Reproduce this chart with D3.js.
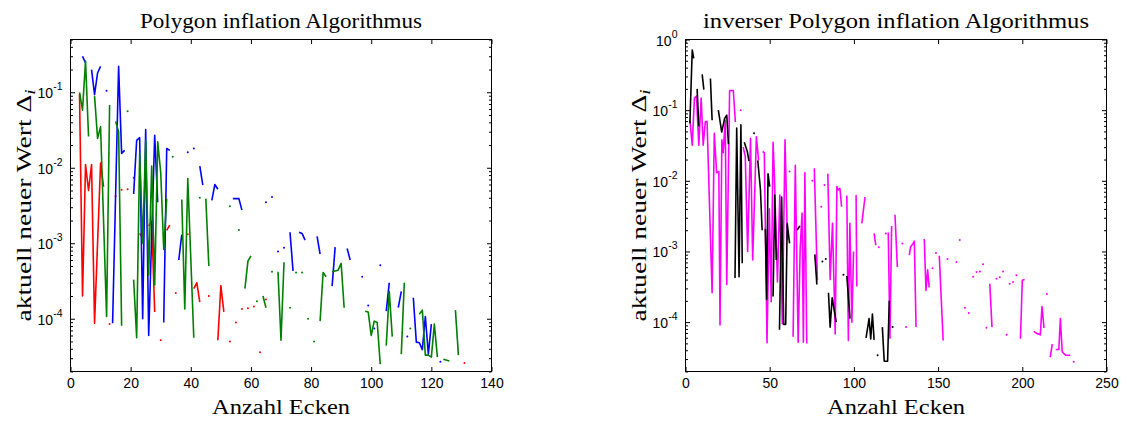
<!DOCTYPE html>
<html>
<head>
<meta charset="utf-8">
<script src="https://cdn.jsdelivr.net/npm/d3@7"></script>
<style>
  body { margin: 0; background: #fff; }
  svg { display: block; }
</style>
</head>
<body>
<svg id="chart" width="1127" height="421"></svg>
<script>
// ---- Polygon inflation: Δi per vertex count (null = gap in the run) ----
const leftXTicks = [0, 20, 40, 60, 80, 100, 120, 140];
const rightXTicks = [0, 50, 100, 150, 200, 250];
const leftDecades = [-4, -3, -2, -1];
const rightDecades = [-4, -3, -2, -1, 0];

const leftRed = [[3,9.5e-2],[4,2.0e-4],[5,1.1e-2],[6,5.0e-3],[7,1.1e-2],[8,8.7e-5],[10,1.15e-2],[11,5.6e-3],null,
  [13,8.5e-5],null,[15,4.2e-3],null,[17,5.1e-3],null,[19,5.2e-3],null,[21,7.4e-3],null,
  [23,1.35e-3],[24,1.17e-3],null,[26,1.7e-3],[27,1.95e-3],[28,1.23e-4],null,[30,5.2e-5],null,
  [32,1.48e-3],[33,1.74e-3],null,[35,2.2e-4],null,[39,1.32e-3],null,[41,2.5e-4],[42,3.0e-4],[43,1.66e-4],null,
  [46,2.0e-4],null,[49,5.2e-5],[50,2.75e-4],[51,1.23e-4],null,[53,5.0e-5],null,[55,8.9e-5],null,
  [57,1.35e-4],null,[59,1.38e-4],null,[61,1.45e-4],null,[63,3.6e-5],null,[65,1.8e-4],null,[131,2.6e-5]];

const leftBlue = [[4,3.0e-1],[5,2.45e-1],null,[7,2.0e-1],[8,9.3e-2],[9,1.8e-1],[10,2.2e-1],null,[12,1.05e-1],null,
  [14,8.7e-5],[16,2.2e-1],[17,1.55e-2],[18,1.7e-2],null,
  [21,4.5e-3],[22,2.3e-2],[23,2.5e-2],[24,1.0e-4],[25,3.2e-2],[26,6.0e-5],[28,2.7e-2],[29,3.5e-3],null,
  [31,8.9e-5],[32,1.8e-2],[33,1.7e-2],null,[36,6.0e-4],[37,1.3e-3],null,[39,1.6e-2],null,[41,1.8e-2],null,
  [43,1.05e-2],[44,5.9e-3],null,[47,3.7e-3],[48,6.0e-3],[49,5.2e-3],null,[54,3.9e-3],[56,3.9e-3],[57,2.75e-3],null,
  [65,3.5e-3],null,[67,4.1e-3],null,[69,7.8e-4],null,[71,8.7e-4],null,[73,1.4e-3],[74,4.3e-4],null,
  [76,1.4e-3],[77,1.35e-3],[78,1.1e-3],null,[82,1.23e-3],[83,7.2e-4],null,[87,2.7e-4],[88,8.9e-4],null,
  [92,8.5e-4],[93,6.0e-4],null,[97,3.6e-4],null,[99,1.5e-4],null,[101,7.4e-5],null,[103,5.1e-4],null,
  [105,1.26e-4],[106,3.0e-4],null,[109,1.4e-4],[110,2.3e-4],null,[112,5.8e-5],null,
  [114,1.9e-4],[115,4.9e-5],[116,4.8e-5],[117,3.9e-5],[118,1.07e-4],[119,3.4e-5],[120,8.5e-5],null,[123,2.7e-5]];

const leftGreen = [[3,1.0e-1],[4,5.8e-2],[5,2.6e-1],[6,2.6e-2],null,[8,8.9e-2],[9,2.45e-2],[10,3.5e-2],[12,1.07e-4],[13,6.8e-2],null,
  [15,4.1e-2],[16,3.0e-2],[17,8.1e-5],null,[19,5.6e-2],null,
  [21,3.3e-4],[22,5.6e-5],[23,1.55e-2],[24,1.0e-3],[25,2.3e-2],[26,3.8e-4],[27,1.05e-2],[28,2.8e-4],[29,2.2e-2],[30,8.7e-3],[31,8.3e-4],[32,3.9e-3],null,
  [34,1.4e-2],null,[37,3.8e-3],[38,1.35e-4],[39,7.2e-3],[41,5.6e-5],null,[43,4.0e-3],null,[45,3.9e-3],[46,5.0e-4],null,
  [53,3.1e-3],null,[56,1.5e-3],null,[58,2.5e-4],[59,5.8e-4],[60,6.8e-4],null,[62,1.7e-4],null,[64,2.0e-4],[65,1.4e-4],null,
  [67,4.2e-4],null,[69,4.2e-4],[70,5.2e-5],[71,5.6e-4],null,[73,1.4e-4],null,[75,4.1e-4],null,[77,4.1e-4],null,
  [79,1.0e-4],null,[81,5.0e-5],null,[83,9.3e-5],[84,4.1e-4],[85,3.6e-4],null,[87,4.2e-4],[89,4.4e-4],[90,5.4e-4],[91,1.4e-4],null,
  [98,1.26e-4],[99,1.23e-4],[100,6.0e-5],[101,9.3e-5],[102,8.9e-5],[103,2.5e-5],null,[105,4.4e-5],[106,2.3e-4],[107,5.8e-5],null,
  [110,3.4e-5],[111,3.0e-4],null,[113,7.4e-5],null,[116,1.15e-4],[117,1.3e-4],[118,3.3e-5],[119,3.3e-5],[120,3.1e-5],[121,8.5e-5],[122,3.1e-5],null,
  [124,2.9e-5],[126,2.75e-5],null,[128,1.3e-4],[129,3.3e-5]];

const rightMagenta = [[2.6,7.2e-2],[4.0,3.2e-2],[5.3,1.48e-1],[6.5,1.58e-1],[7.9,3.2e-2],[9.3,1.48e-1],[10.5,3.2e-2],[11.8,6.9e-2],[12.8,6.9e-2],
  [15.8,2.6e-4],[17.1,4.7e-2],[18.5,1.3e-2],[19.8,1.35e-2],[20.5,9.1e-5],[21.6,3.8e-2],[22.4,2.5e-2],[23.6,7.2e-2],[24.5,3.4e-4],
  [26.2,1.9e-1],[28.4,1.9e-1],[29.6,6.8e-2],null,[32.8,1.0e-1],null,
  [34.3,3.0e-2],[35.5,2.2e-2],[36.9,1.0e-3],[38.6,4.0e-2],[39.9,7.6e-4],[42.1,4.2e-2],[43.4,1.95e-2],null,
  [45.8,2.6e-2],[46.8,2.5e-2],[48.4,5.1e-5],[49.8,4.0e-3],[50.9,1.95e-4],[52.0,3.5e-2],[52.8,1.15e-2],[54.6,3.7e-4],[56.0,6.3e-3],
  [57.5,9.5e-5],[59.1,3.8e-2],[60.5,1.45e-3],null,[61.8,1.35e-2],null,
  [63.9,6.2e-5],[65.2,1.66e-2],[66.9,5.2e-5],[68.1,1.1e-3],[69.2,3.5e-3],[70.0,5.2e-5],[70.9,1.3e-2],[72.0,5.0e-5],null,
  [75.3,1.0e-2],null,[76.5,1.5e-2],[78.3,3.9e-4],null,[80.6,4.3e-3],null,[82.5,8.7e-3],null,
  [84.5,1.26e-2],[85.9,4.0e-4],[87.3,2.5e-3],[88.9,6.8e-5],[89.9,8.3e-3],[90.7,7.4e-3],[91.7,7.8e-3],[92.7,4.3e-3],null,
  [95.8,6.2e-3],[96.7,5.5e-5],[97.6,2.5e-3],[98.8,1.0e-4],[99.8,1.0e-3],null,[101.3,6.3e-3],[101.7,3.2e-4],null,
  [104.7,2.5e-3],[106.6,5.9e-3],null,[112,1.8e-3],[113,1.23e-3],null,[114.8,1.15e-3],null,[119,1.8e-3],null,
  [120.4,1.86e-3],[121.4,5.9e-5],[122.4,2.3e-3],null,[124.4,3.3e-3],[125.8,6.0e-4],null,[128.8,1.3e-3],null,[131,8.5e-5],null,
  [132.9,8.9e-4],[133.7,1.17e-3],[135.2,1.3e-3],[135.9,1.4e-3],[136.9,8.5e-5],null,
  [141.8,1.5e-3],[142.8,2.8e-4],[143.8,5.5e-4],[144.7,3.1e-4],null,[146.7,5.8e-4],null,[148.7,9.5e-4],null,
  [150.7,8.7e-4],[153,5.5e-5],null,[155.6,7.8e-4],null,[160.9,7.1e-4],null,[162.9,1.45e-3],null,[165.9,1.6e-4],null,
  [168.2,1.35e-4],null,[170.8,4.4e-4],null,[172.8,5.1e-4],null,[174.8,5.2e-4],null,[176.7,6.6e-4],null,[178.7,8.3e-5],null,
  [180.7,3.5e-4],[182,8.5e-5],null,[184.7,4.1e-4],null,[186.6,4.3e-4],null,[188.6,5.2e-4],null,[190.6,6.6e-5],null,
  [192.5,3.5e-4],null,[194.5,3.7e-4],null,[196.5,4.6e-4],null,[198.9,5.8e-5],[200,3.9e-4],[201.4,4.0e-4],null,
  [206.8,7.4e-5],[208.7,6.9e-5],[210.7,6.6e-5],[211.7,1.66e-4],[212.9,8.3e-5],null,[214.6,2.5e-4],null,
  [216.6,3.2e-5],[217.8,4.9e-5],null,[219.8,4.1e-5],[221.7,4.1e-5],[222.6,1.12e-4],[223.7,3.8e-5],[225.7,3.4e-5],[228.5,3.4e-5],null,
  [230.5,2.75e-5]];

const rightBlack = [[2.6,6.5e-2],[4.0,7.1e-1],[4.9,5.4e-1],null,[6.9,2.0e-1],[7.9,5.9e-2],null,[9.9,3.2e-1],[10.9,1.95e-1],null,
  [14.8,2.8e-1],[15.8,7.2e-2],null,[19.5,1.0e-1],[21.5,4.9e-2],[23.2,7.6e-2],[24.5,8.5e-2],[25.5,3.3e-2],null,
  [29.4,4.2e-4],[30.4,5.6e-2],[31.8,4.4e-4],[32.9,6.2e-2],[33.7,6.8e-4],null,[34.9,3.5e-2],[36.7,2.6e-2],[37.7,1.9e-2],null,
  [40.7,4.7e-2],null,[42.9,1.95e-2],[44.5,7.6e-3],[45.5,2.0e-3],null,[47.4,2.1e-3],[48.2,2.1e-4],[49.0,1.26e-2],[50.0,8.3e-3],null,
  [52.0,2.3e-4],[53.0,6.3e-3],[53.9,7.6e-4],null,[55.8,7.8e-5],[57.1,5.9e-3],[58.3,9.3e-5],[59.5,9.3e-5],[60.4,2.5e-3],[61.8,1.3e-3],null,
  [66.3,2.0e-3],[67.9,2.3e-3],null,[76.8,9.1e-4],[78.0,3.4e-4],null,[81.3,7.2e-4],null,[83.3,7.8e-4],null,
  [84.9,2.6e-4],[85.9,8.5e-5],[87.1,2.2e-4],[89.5,1.0e-4],null,[93.8,4.7e-4],null,[95.8,4.5e-4],[97.7,1.12e-4],null,
  [107.2,6.0e-5],[109,1.12e-4],[110,5.8e-5],[111,1.3e-4],[112,5.6e-5],null,[114.1,3.4e-5],null,
  [116.9,8.5e-5],[118,2.8e-5],[120,2.8e-5],[121,2.0e-4],null,[123,8.5e-5]];

const svg = d3.select("#chart");
const SANS = "'Liberation Sans', Arial, sans-serif";
const SERIF = "'Liberation Serif', 'Times New Roman', serif";

function splitRuns(data) {
  const runs = []; let cur = [];
  data.forEach(d => {
    if (d) cur.push(d);
    else { if (cur.length) runs.push(cur); cur = []; }
  });
  if (cur.length) runs.push(cur);
  return runs;
}

function drawPanel(p) {
  const x = d3.scaleLinear().domain(p.xDomain).range([p.left, p.right]);
  const y = d3.scaleLog().domain(p.yDomain).range([p.bottom, p.top]);
  const g = svg.append("g");

  svg.append("clipPath").attr("id", p.id + "-clip")
    .append("rect")
    .attr("x", p.left).attr("y", p.top)
    .attr("width", p.right - p.left).attr("height", p.bottom - p.top);

  const plot = g.append("g").attr("clip-path", `url(#${p.id}-clip)`);
  const line = d3.line().x(d => x(d[0])).y(d => y(d[1]));

  p.series.forEach(s => {
    splitRuns(s.data).forEach(run => {
      if (run.length > 1) {
        plot.append("path").attr("d", line(run))
          .attr("fill", "none").attr("stroke", s.color)
          .attr("stroke-width", 1.6).attr("stroke-linejoin", "round");
      } else {
        plot.append("circle")
          .attr("cx", x(run[0][0])).attr("cy", y(run[0][1]))
          .attr("r", 1).attr("fill", s.color);
      }
    });
  });

  // tick values for the log axis
  const lo = Math.log10(p.yDomain[0]), hi = Math.log10(p.yDomain[1]);
  const majors = p.decades.map(e => Math.pow(10, e));
  const minors = [];
  for (let e = Math.floor(lo); e <= Math.ceil(hi); e++) {
    for (let m = 2; m <= 9; m++) {
      const v = m * Math.pow(10, e);
      if (v >= p.yDomain[0] * 0.999 && v <= p.yDomain[1] * 1.001) minors.push(v);
    }
  }

  const axisStyle = sel => {
    sel.select(".domain").remove();
    sel.selectAll("line").attr("stroke", "#000").attr("stroke-width", 1);
  };

  // bottom / top
  g.append("g").attr("transform", `translate(0,${p.bottom})`)
    .call(d3.axisBottom(x).tickValues(p.xTicks).tickSize(-4.5).tickPadding(7)
      .tickFormat(d3.format("d")))
    .call(axisStyle)
    .call(s => s.selectAll("text").attr("font-family", SANS).attr("font-size", 14).attr("fill", "#000"));
  g.append("g").attr("transform", `translate(0,${p.top})`)
    .call(d3.axisTop(x).tickValues(p.xTicks).tickSize(-4.5).tickFormat(""))
    .call(axisStyle);

  // left / right majors and minors
  [[d3.axisLeft, p.left], [d3.axisRight, p.right]].forEach(([ax, pos]) => {
    g.append("g").attr("transform", `translate(${pos},0)`)
      .call(ax(y).tickValues(majors).tickSize(-4.5).tickFormat(""))
      .call(axisStyle);
    g.append("g").attr("transform", `translate(${pos},0)`)
      .call(ax(y).tickValues(minors).tickSize(-2.5).tickFormat(""))
      .call(axisStyle);
  });

  // y tick labels as powers of ten
  p.decades.forEach(e => {
    const t = g.append("text")
      .attr("x", p.left - 8).attr("y", y(Math.pow(10, e)) + 6)
      .attr("text-anchor", "end").attr("font-family", SANS).attr("fill", "#000");
    t.append("tspan").attr("font-size", 14).text("10");
    t.append("tspan").attr("font-size", 10.5).attr("dy", -8).text(e === 0 ? "0" : "-" + Math.abs(e));
  });

  // frame
  g.append("rect")
    .attr("x", p.left).attr("y", p.top)
    .attr("width", p.right - p.left).attr("height", p.bottom - p.top)
    .attr("fill", "none").attr("stroke", "#000").attr("stroke-width", 1);

  const cx = (p.left + p.right) / 2;
  g.append("text").attr("x", cx).attr("y", 28)
    .attr("text-anchor", "middle").attr("font-family", SERIF).attr("font-size", 20)
    .attr("textLength", p.titleWidth).attr("lengthAdjust", "spacingAndGlyphs")
    .text(p.title);

  g.append("text").attr("x", cx).attr("y", 414)
    .attr("text-anchor", "middle").attr("font-family", SERIF).attr("font-size", 20)
    .attr("textLength", 138).attr("lengthAdjust", "spacingAndGlyphs")
    .text("Anzahl Ecken");

  const yl = g.append("text")
    .attr("transform", `translate(${p.ylabelX},${(p.top + p.bottom) / 2}) rotate(-90)`)
    .attr("text-anchor", "middle").attr("font-family", SERIF).attr("font-size", 20)
    .attr("textLength", 232).attr("lengthAdjust", "spacingAndGlyphs");
  yl.append("tspan").text("aktuell neuer Wert Δ");
  yl.append("tspan").attr("font-style", "italic").attr("font-size", 14).attr("dy", 4).text("i");
}

drawPanel({
  id: "left", left: 70.5, right: 491.5, top: 39.5, bottom: 371.5,
  xDomain: [0, 140], yDomain: [2e-5, 0.5], xTicks: leftXTicks, decades: leftDecades,
  title: "Polygon inflation Algorithmus", titleWidth: 282, ylabelX: 31,
  series: [
    { color: "#ff0000", data: leftRed },
    { color: "#0000ff", data: leftBlue },
    { color: "#008000", data: leftGreen }
  ]
});

drawPanel({
  id: "right", left: 685.5, right: 1106.5, top: 39.5, bottom: 371.5,
  xDomain: [0, 250], yDomain: [2e-5, 1], xTicks: rightXTicks, decades: rightDecades,
  title: "inverser Polygon inflation Algorithmus", titleWidth: 386, ylabelX: 646,
  series: [
    { color: "#ff00ff", data: rightMagenta },
    { color: "#000000", data: rightBlack }
  ]
});
</script>
</body>
</html>
